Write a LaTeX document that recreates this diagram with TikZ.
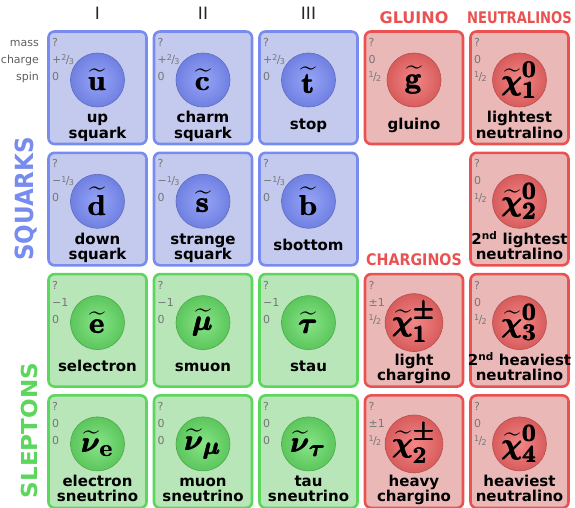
\documentclass[tikz,border=0pt]{standalone}
\usepackage{amsmath}
\usepackage[no-math]{fontspec}
\setmainfont{DejaVu Sans}
\newcommand\bl[1]{\pmb{\mathbf{#1}}}
\newcommand\bg[1]{\pmb{\boldsymbol{#1}}}
\definecolor{bfill}{RGB}{196,201,238}
\definecolor{bline}{RGB}{120,140,240}
\definecolor{bin}{RGB}{150,165,246}
\definecolor{bout}{RGB}{112,128,226}
\definecolor{gfill}{RGB}{184,230,184}
\definecolor{gline}{RGB}{92,214,92}
\definecolor{gin}{RGB}{135,228,135}
\definecolor{gout}{RGB}{92,198,92}
\definecolor{rfill}{RGB}{235,184,184}
\definecolor{rline}{RGB}{234,82,82}
\definecolor{rin}{RGB}{242,135,135}
\definecolor{rout}{RGB}{216,92,92}
\definecolor{valgray}{RGB}{118,118,118}
\definecolor{sidegray}{RGB}{95,95,95}
\newcommand\fr[2]{\raisebox{0.42ex}{\fontsize{8}{8}\selectfont#1}\kern-0.06em/\kern-0.06em\raisebox{-0.15ex}{\fontsize{8}{8}\selectfont#2}}
\newcommand\cellbox[9]{%
 \pgfmathsetmacro\cxx{48.5+105.5*(#2-1)}%
 \pgfmathsetmacro\cyy{31.5+121.3*(#3-1)}%
 \draw[box#4] (\cxx,\cyy) rectangle ++(98,112.5);
 \node[ball#4] (#1) at (\cxx+49,\cyy+48.5) {\scalebox{1.15}{$#7$}};
 \node[val] (#1-m) at (\cxx+3.5,\cyy+15) {?};
 \node[val] (#1-q) at (\cxx+3.5,\cyy+32) {#5};
 \node[val] (#1-s) at (\cxx+3.5,\cyy+49) {#6};
 \if\relax\detokenize{#9}\relax
   \node[lab] (#1-n) at (\cxx+49,\cyy+97.5) {#8};
 \else
   \node[lab] (#1-n) at (\cxx+49,\cyy+91.5) {#8};
   \node[lab] (#1-n2) at (\cxx+49,\cyy+106.5) {#9};
 \fi}
\begin{document}
\begin{tikzpicture}[x=1pt,y=-1pt,
  box/.style={line width=2.6, rounded corners=6},
  boxb/.style={box, draw=bline, fill=bfill},
  boxg/.style={box, draw=gline, fill=gfill},
  boxr/.style={box, draw=rline, fill=rfill},
  ball/.style={circle, minimum size=54, inner sep=0, line width=0.6, font=\fontsize{24.88}{25}\selectfont},
  ballb/.style={ball, draw=bout!85!black, inner color=bin, outer color=bout},
  ballg/.style={ball, draw=gout!85!black, inner color=gin, outer color=gout},
  ballr/.style={ball, draw=rout!85!black, inner color=rin, outer color=rout},
  val/.style={anchor=base west, inner sep=0, text=valgray, font=\fontsize{11}{11}\selectfont},
  side/.style={anchor=base east, inner sep=0, text=sidegray, font=\fontsize{11}{11}\selectfont},
  lab/.style={anchor=base, inner sep=0, font=\bfseries\fontsize{15}{15}\selectfont},
  gen/.style={anchor=base, inner sep=0, text=black!85, font=\fontsize{17}{17}\selectfont},
  head/.style={anchor=base, inner sep=0, text=rline, font=\bfseries\fontsize{16}{16}\selectfont},
  group/.style={rotate=90, inner sep=0, font=\bfseries\fontsize{25}{25}\selectfont}]
\fill[white] (0,0) rectangle (575,508);
\useasboundingbox (0,0) rectangle (575,508);
% headers
\node[gen] (g1) at (97.5,19.5) {I};
\node[gen] (g2) at (203,19.5) {II};
\node[gen] (g3) at (308.5,19.5) {III};
\node[head] (hgl) at (414,23.3) {GLUINO};
\node[head] (hne) at (519.5,23.3) {\scalebox{0.82}[1]{NEUTRALINOS}};
\node[head] (hch) at (414,265) {\scalebox{0.89}[1]{CHARGINOS}};
\node[side] (smass) at (39,46.5) {mass};
\node[side] (scharge) at (39,63.5) {charge};
\node[side] (sspin) at (39,80.5) {spin};
\node[group, text=bline] (squarks) at (26,199) {\scalebox{0.92}[1]{SQUARKS}};
\node[group, text=gline, font=\bfseries\fontsize{22}{22}\selectfont] (sleptons) at (29,430.5) {\scalebox{1.05}[1]{SLEPTONS}};
% row 1
\cellbox{uu}{1}{1}{b}{+\fr23}{0}{\widetilde{\bl u}}{up}{squark}
\cellbox{cc}{2}{1}{b}{+\fr23}{0}{\widetilde{\bl c}}{charm}{squark}
\cellbox{tt}{3}{1}{b}{+\fr23}{0}{\widetilde{\bl t}}{stop}{}
\cellbox{gl}{4}{1}{r}{0}{\fr12}{\widetilde{\bl g}}{gluino}{}
\cellbox{n1}{5}{1}{r}{0}{\fr12}{\widetilde{\bg\chi}^{\bl 0}_{\bl 1}}{lightest}{neutralino}
% row 2
\cellbox{dd}{1}{2}{b}{−\fr13}{0}{\widetilde{\bl d}}{down}{squark}
\cellbox{ss}{2}{2}{b}{−\fr13}{0}{\widetilde{\bl s}}{strange}{squark}
\cellbox{bb}{3}{2}{b}{−\fr13}{0}{\widetilde{\bl b}}{sbottom}{}
\cellbox{n2}{5}{2}{r}{0}{\fr12}{\widetilde{\bg\chi}^{\bl 0}_{\bl 2}}{2\textsuperscript{nd} lightest}{neutralino}
% row 3
\cellbox{ee}{1}{3}{g}{−1}{0}{\widetilde{\bl e}}{selectron}{}
\cellbox{mu}{2}{3}{g}{−1}{0}{\widetilde{\bg\mu}}{smuon}{}
\cellbox{ta}{3}{3}{g}{−1}{0}{\widetilde{\bg\tau}}{stau}{}
\cellbox{c1}{4}{3}{r}{±1}{\fr12}{\widetilde{\bg\chi}^{\bg\pm}_{\bl 1}}{light}{chargino}
\cellbox{n3}{5}{3}{r}{0}{\fr12}{\widetilde{\bg\chi}^{\bl 0}_{\bl 3}}{2\textsuperscript{nd} heaviest}{neutralino}
% row 4
\cellbox{ve}{1}{4}{g}{0}{0}{\widetilde{\bg\nu}_{\bl e}}{electron}{sneutrino}
\cellbox{vm}{2}{4}{g}{0}{0}{\widetilde{\bg\nu}_{\bg\mu}}{muon}{sneutrino}
\cellbox{vt}{3}{4}{g}{0}{0}{\widetilde{\bg\nu}_{\bg\tau}}{tau}{sneutrino}
\cellbox{c2}{4}{4}{r}{±1}{\fr12}{\widetilde{\bg\chi}^{\bg\pm}_{\bl 2}}{heavy}{chargino}
\cellbox{n4}{5}{4}{r}{0}{\fr12}{\widetilde{\bg\chi}^{\bl 0}_{\bl 4}}{heaviest}{neutralino}
\end{tikzpicture}
\end{document}
